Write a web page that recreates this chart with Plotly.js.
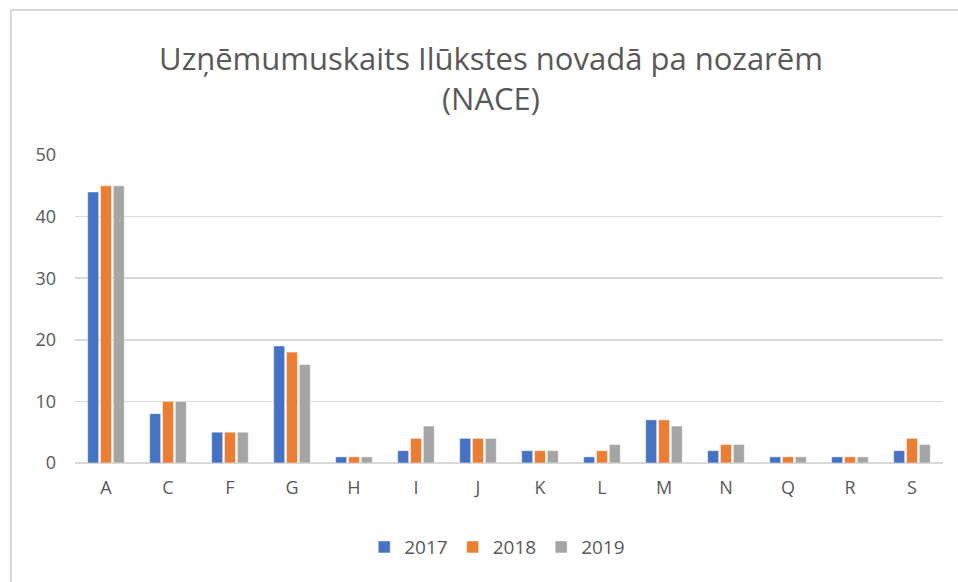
<!DOCTYPE html>
<html>
<head>
<meta charset="utf-8">
<script src="https://cdn.plot.ly/plotly-3.0.1.min.js"></script>
<style>
  html, body { margin: 0; padding: 0; background: #fff; }
  #wrap { position: relative; width: 958px; height: 582px; }
  #chart { width: 958px; height: 582px; }
  #frame { position: absolute; left: 10px; top: 9px; width: 946px; height: 600px;
           border-top: 2px solid #d9d9d9; border-left: 2px solid #d9d9d9; pointer-events: none; }
</style>
</head>
<body>
<div id="wrap">
  <div id="chart"></div>
  <div id="frame"></div>
</div>
<script>
const categories = ["A", "C", "F", "G", "H", "I", "J", "K", "L", "M", "N", "Q", "R", "S"];
const values2017 = [44, 8, 5, 19, 1, 2, 4, 2, 1, 7, 2, 1, 1, 2];
const values2018 = [45, 10, 5, 18, 1, 4, 4, 2, 2, 7, 3, 1, 1, 4];
const values2019 = [45, 10, 5, 16, 1, 6, 4, 2, 3, 6, 3, 1, 1, 3];
const seriesNames = ["2017", "2018", "2019"];
const titleText = "Uzņēmumuskaits Ilūkstes novadā pa nozarēm<br>(NACE)";

const colors = ["#4472C4", "#ED7D31", "#A5A5A5"];
const seriesValues = [values2017, values2018, values2019];
const fontFamily = "Open Sans, Noto Sans, sans-serif";
const textColor = "#595959";

const traces = seriesValues.map((vals, i) => ({
  type: "bar",
  name: seriesNames[i],
  x: categories,
  y: vals,
  marker: { color: colors[i], line: { color: "#ffffff", width: 0.5 } },
  hoverinfo: "x+y+name"
}));

const layout = {
  width: 958,
  height: 582,
  paper_bgcolor: "#ffffff",
  plot_bgcolor: "#ffffff",
  margin: { l: 75, r: 15, t: 155, b: 119, autoexpand: false },
  font: { family: fontFamily, color: textColor },
  title: {
    text: titleText,
    font: { family: fontFamily, size: 31, color: textColor },
    x: 0.5125,
    xanchor: "center",
    xref: "container",
    y: 0.88,
    yanchor: "middle"
  },
  barmode: "group",
  bargap: 0.38,
  bargroupgap: 0.14,
  xaxis: {
    type: "category",
    showgrid: false,
    zeroline: false,
    showline: false,
    ticks: "",
    tickfont: { family: fontFamily, size: 18, color: textColor },
    ticklabelstandoff: 12
  },
  yaxis: {
    range: [0, 50],
    dtick: 10,
    showgrid: true,
    gridcolor: "#d9d9d9",
    gridwidth: 1.5,
    zeroline: true,
    zerolinecolor: "#d9d9d9",
    zerolinewidth: 1.5,
    showline: false,
    ticks: "",
    tickfont: { family: fontFamily, size: 18, color: textColor },
    ticklabelstandoff: 18
  },
  showlegend: true,
  legend: {
    orientation: "h",
    xref: "container",
    yref: "container",
    x: 0.519,
    xanchor: "center",
    y: 0.06,
    yanchor: "middle",
    font: { family: fontFamily, size: 19, color: textColor },
    itemwidth: 30,
    traceorder: "normal"
  }
};

Plotly.newPlot("chart", traces, layout, { displayModeBar: false, staticPlot: true });
</script>
</body>
</html>
